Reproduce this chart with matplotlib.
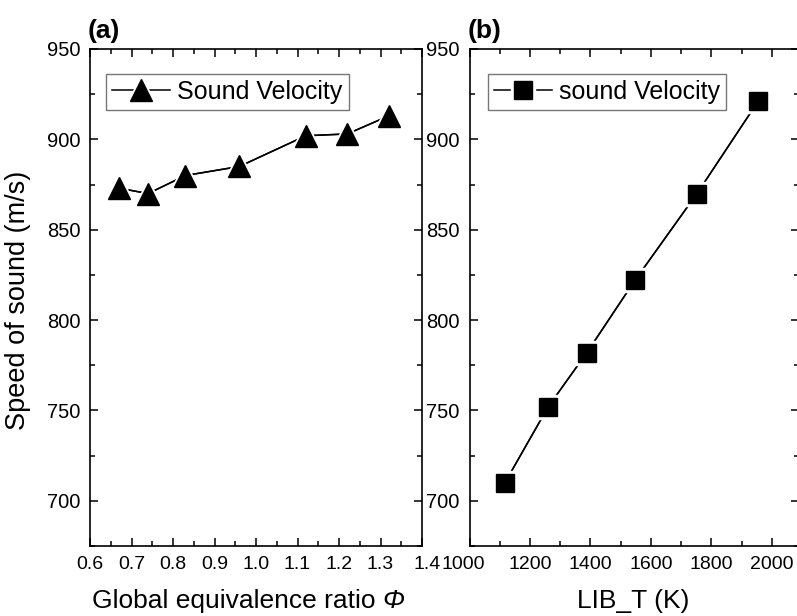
import matplotlib
matplotlib.use("Agg")
import matplotlib.pyplot as plt
from matplotlib.legend_handler import HandlerTuple
from matplotlib.ticker import MultipleLocator
from matplotlib.transforms import ScaledTranslation

plt.rcParams["font.family"] = ["Liberation Sans", "DejaVu Sans"]

# panel (a): speed of sound vs global equivalence ratio
phi = [0.67, 0.74, 0.83, 0.96, 1.12, 1.22, 1.32]
speed_phi = [873, 870, 880, 885, 902, 903, 913]

# panel (b): speed of sound vs LIB temperature
lib_t = [1117, 1260, 1388, 1547, 1752, 1954]
speed_t = [710, 752, 782, 822, 870, 921]

W, H = 797, 616
fig = plt.figure(figsize=(W / 100, H / 100), dpi=100)


def px_axes(x0, y0, x1, y1):
    return fig.add_axes([x0 / W, 1 - y1 / H, (x1 - x0) / W, (y1 - y0) / H])


ax1 = px_axes(90, 49, 422, 546)
ax2 = px_axes(469.5, 49, 799.2, 546)


def style(ax, xmaj, xmin):
    ax.set_ylim(675, 950)
    ax.yaxis.set_major_locator(MultipleLocator(50))
    ax.yaxis.set_minor_locator(MultipleLocator(25))
    ax.xaxis.set_major_locator(MultipleLocator(xmaj))
    ax.xaxis.set_minor_locator(MultipleLocator(xmin))
    ax.tick_params(which="both", direction="in", top=True, right=True,
                   width=1.1, pad=7)
    ax.tick_params(axis="y", labelsize=14.5)
    ax.tick_params(axis="x", labelsize=14)
    ax.tick_params(which="major", length=6)
    ax.tick_params(which="minor", length=3.5)
    for s in ax.spines.values():
        s.set_linewidth(1.2)


def series(ax, x, y, marker, ms):
    ax.plot(x, y, "-", color="black", lw=1.1, zorder=2)
    halo, = ax.plot(x, y, "-", color="black", lw=1.1, marker=marker, ms=ms + 5,
                    mfc="white", mec="white", zorder=3)
    mk, = ax.plot(x, y, ls="none", marker=marker, ms=ms, color="black", zorder=4)
    return (halo, mk)


h1 = series(ax1, phi, speed_phi, "^", 16)
style(ax1, 0.1, 0.05)
ax1.set_xlim(0.6, 1.4)
ax1.xaxis.set_major_formatter(plt.FormatStrFormatter("%.1f"))

h2 = series(ax2, lib_t, speed_t, "s", 12.5)
style(ax2, 200, 100)
ax2.set_xlim(1000, 2090)

for ax, h, lab, bx in [(ax1, h1, "Sound Velocity", 0.048),
                       (ax2, h2, "sound Velocity", 0.056)]:
    leg = ax.legend([h], [lab], handler_map={tuple: HandlerTuple(ndivide=1)},
                    loc="upper left", bbox_to_anchor=(bx, 0.95), borderaxespad=0,
                    fontsize=18, fancybox=False, framealpha=1, edgecolor="#777777",
                    borderpad=0.25, handlelength=2.3, handletextpad=0.3)
    leg.get_frame().set_linewidth(1.0)

fig.canvas.draw()
# nudge the crowded labels at the junction of the two panels
for lbl in ax1.get_xticklabels():
    if lbl.get_text() == "1.4":
        lbl.set_transform(lbl.get_transform() + ScaledTranslation(5 / 100, 0, fig.dpi_scale_trans))
for lbl in ax2.get_xticklabels():
    if lbl.get_text() == "1000":
        lbl.set_transform(lbl.get_transform() + ScaledTranslation(-6 / 100, 0, fig.dpi_scale_trans))

fig.text(88 / W, 1 - 38 / H, "(a)", fontsize=19, fontweight="bold", va="baseline")
fig.text(468 / W, 1 - 38 / H, "(b)", fontsize=19, fontweight="bold", va="baseline")

fig.text(376 / W, 1 - 608 / H, "Global equivalence ratio", fontsize=19,
         ha="right", va="baseline")
fig.text(382 / W, 1 - 608 / H, "Φ", fontsize=19, style="italic",
         ha="left", va="baseline")
fig.text(633 / W, 1 - 608 / H, "LIB_T (K)", fontsize=19, ha="center", va="baseline")
fig.text(18 / W, 1 - 300 / H, "Speed of sound (m/s)", fontsize=19.5,
         rotation=90, ha="center", va="center")

fig.savefig("out.png", dpi=100)
